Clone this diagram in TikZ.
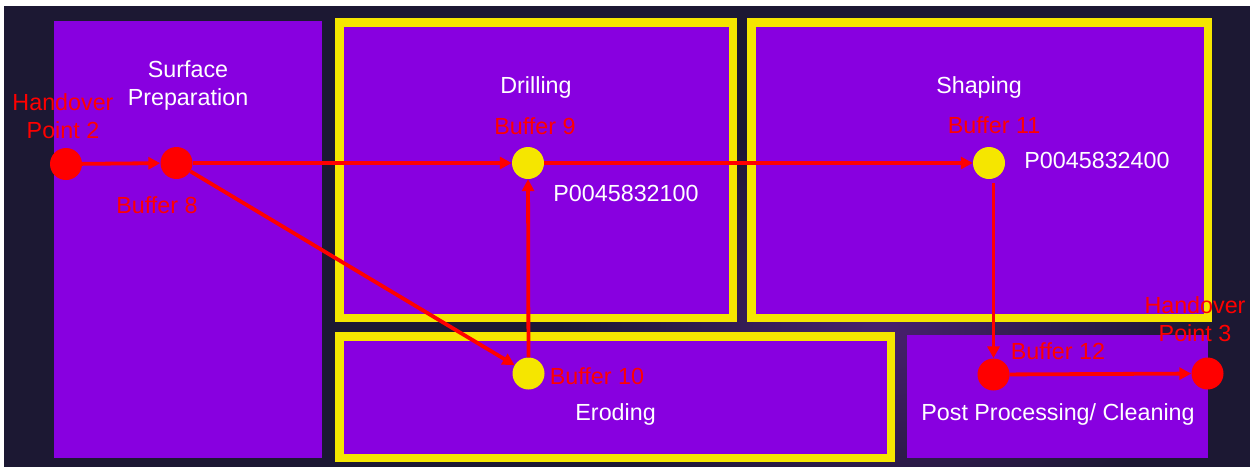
\documentclass[tikz,border=0pt]{standalone}
\usepackage{fontspec}
\setmainfont{Liberation Sans}
\usetikzlibrary{arrows.meta}
\definecolor{bgdark}{HTML}{1C1833}
\definecolor{glow}{HTML}{48206E}
\definecolor{purp}{HTML}{8800E0}
\definecolor{yel}{HTML}{F5E600}
\definecolor{redc}{HTML}{FF0000}
\tikzset{
  zonebox/.style={fill=purp},
  framed/.style={fill=purp, draw=yel, line width=8.5pt},
  redpt/.style={circle, fill=redc, minimum size=32pt, inner sep=0pt},
  yelpt/.style={circle, fill=yel, minimum size=32pt, inner sep=0pt},
  flow/.style={draw=redc, line width=3.8pt, -{Triangle[length=12pt,width=12pt]}},
  rlbl/.style={text=redc, font=\fontsize{23.3}{28}\selectfont, align=center, inner sep=0pt},
  wlbl/.style={text=white, font=\fontsize{23.3}{28}\selectfont, align=center, inner sep=0pt}
}
\begin{document}
\begin{tikzpicture}[x=1pt,y=-1pt]
\useasboundingbox (0,0) rectangle (1250,466);
\fill[white] (-5,-5) rectangle (1260,6);
\fill[white] (-5,-5) rectangle (4,480);
\fill[bgdark] (4,6) rectangle (1260,480);
\begin{scope}
  \clip (4,6) rectangle (1260,480);
  \shade[inner color=glow, outer color=bgdark] (880,330) ellipse (320 and 210);
\end{scope}

% zones
\fill[zonebox] (54,21) rectangle (322,458);
\filldraw[framed] (339.25,22.25) rectangle (732.75,317.75);
\filldraw[framed] (751.25,22.25) rectangle (1207.75,317.75);
\filldraw[framed] (339.25,336.25) rectangle (890.75,457.75);
\fill[zonebox] (907,335) rectangle (1208,458);

% zone titles
\node[wlbl] (tsurf) at (188,85.2) {Surface\\Preparation};
\node[wlbl, anchor=base] (tdrill) at (536,93) {Drilling};
\node[wlbl, anchor=base] (tshape) at (979,93) {Shaping};
\node[wlbl, anchor=base] (terode) at (615.6,420.5) {Eroding};
\node[wlbl, anchor=base] (tpost) at (1058,420.5) {Post Processing/ Cleaning};
\node[wlbl, anchor=base] (p1) at (626,201) {P0045832100};
\node[wlbl, anchor=base] (p2) at (1097,168) {P0045832400};

% points
\node[redpt] (hp2) at (66,164) {};
\node[redpt] (b8) at (176.5,163) {};
\node[yelpt] (b9) at (528,163) {};
\node[yelpt] (b11) at (989,163) {};
\node[yelpt] (b10) at (528.5,373.5) {};
\node[redpt] (b12) at (993.5,374.5) {};
\node[redpt] (hp3) at (1207.5,373.5) {};

% point labels
\node[rlbl] (lhp2) at (63,116.2) {Handover\\Point 2};
\node[rlbl, anchor=base] (lb8) at (157,213) {Buffer 8};
\node[rlbl, anchor=base] (lb9) at (535,134) {Buffer 9};
\node[rlbl, anchor=base] (lb11) at (994,133.5) {Buffer 11};
\node[rlbl, anchor=base] (lb10) at (597,384) {Buffer 10};
\node[rlbl, anchor=base] (lb12) at (1058,359) {Buffer 12};
\node[rlbl] (lhp3) at (1195,318.8) {Handover\\Point 3};

% connectors
\draw[flow] (hp2) -- (b8);
\draw[flow] (b8) -- (b9);
\draw[flow] (b9) -- (b11);
\draw[flow] (b8) -- (b10);
\draw[flow] (b10) -- (b9);
\path (b12 |- b11.south) ++(0,4) coordinate (b11d);
\draw[flow] (b11d) -- (b12);
\draw[flow] (b12) -- (hp3);
\end{tikzpicture}
\end{document}
